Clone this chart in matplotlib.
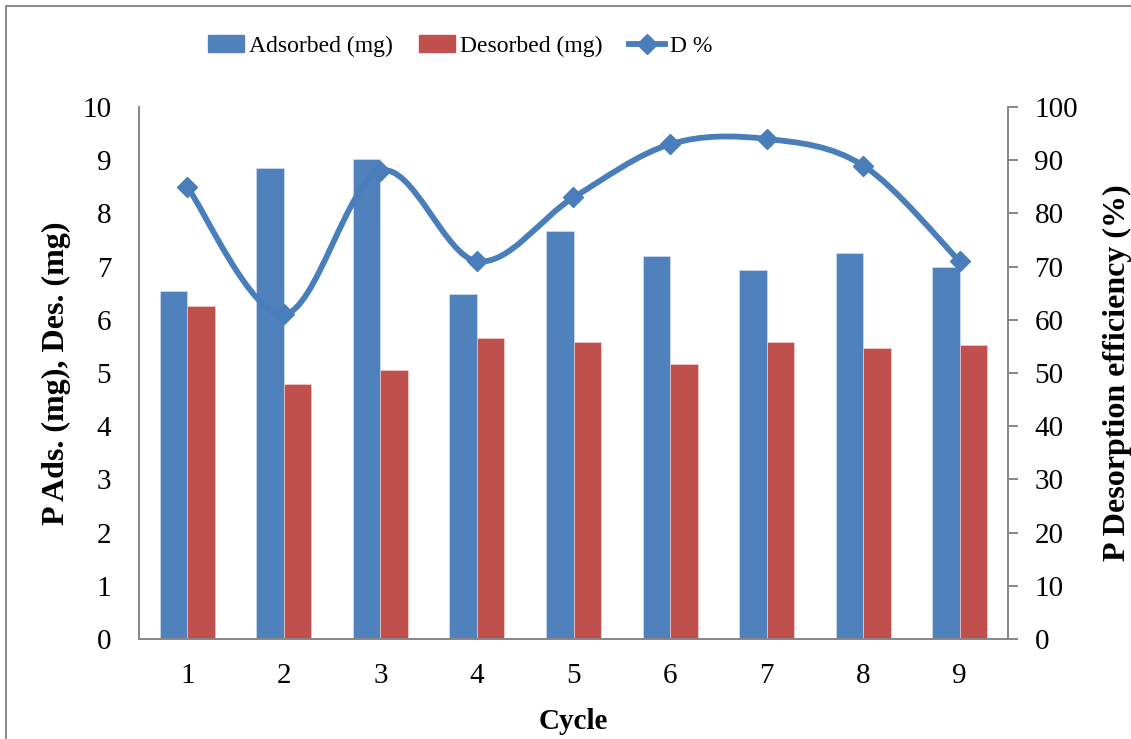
import numpy as np
import matplotlib
matplotlib.use("Agg")
import matplotlib.pyplot as plt
from matplotlib.path import Path
from matplotlib.patches import PathPatch, Rectangle
from matplotlib.lines import Line2D

plt.rcParams['font.family'] = ['Liberation Serif', 'DejaVu Serif']

# data
cycles = [1, 2, 3, 4, 5, 6, 7, 8, 9]
adsorbed = [6.55, 8.85, 9.02, 6.48, 7.67, 7.20, 6.94, 7.25, 7.00]
desorbed = [6.26, 4.80, 5.05, 5.65, 5.59, 5.17, 5.58, 5.47, 5.52]
d_pct = [85, 61, 88, 71, 83, 93, 94, 89, 71]

blue = '#4F81BD'
red = '#C0504D'
line_c = '#4A7EBB'
grey = '#868686'

fig = plt.figure(figsize=(11.31, 7.39), dpi=100)
ax = fig.add_axes([139 / 1131, 1 - 639 / 739, 869 / 1131, 532 / 739])
ax2 = ax.twinx()

w = 0.285
x = np.array(cycles, dtype=float)
ax.bar(x - w / 2, adsorbed, w, color=blue, edgecolor='#DCE6F2', linewidth=0.4,
       label='Adsorbed (mg)', zorder=2)
ax.bar(x + w / 2, desorbed, w, color=red, edgecolor='#F2DCDB', linewidth=0.4,
       label='Desorbed (mg)', zorder=2)

# smoothed line (Excel-style bezier through the points)
pts = list(zip(x, d_pct))
verts = [pts[0]]
codes = [Path.MOVETO]
n = len(pts)
for i in range(n - 1):
    p0 = pts[i - 1] if i > 0 else pts[i]
    p1 = pts[i]
    p2 = pts[i + 1]
    p3 = pts[i + 2] if i + 2 < n else pts[i + 1]
    c1 = (p1[0] + (p2[0] - p0[0]) / 6, p1[1] + (p2[1] - p0[1]) / 6)
    c2 = (p2[0] - (p3[0] - p1[0]) / 6, p2[1] - (p3[1] - p1[1]) / 6)
    verts += [c1, c2, p2]
    codes += [Path.CURVE4] * 3
ax2.add_patch(PathPatch(Path(verts, codes), facecolor='none', edgecolor=line_c,
                        linewidth=4.2, capstyle='round', zorder=3))
ax2.plot(x, d_pct, ls='none', marker='D', ms=10, color=line_c, zorder=4)

ax.set_xlim(0.5, 9.5)
ax.set_ylim(0, 10)
ax2.set_ylim(0, 100)
ax.set_yticks(range(0, 11))
ax2.set_yticks(range(0, 101, 10))
ax.set_xticks(cycles)

for a in (ax, ax2):
    a.spines['top'].set_visible(False)
    for s in a.spines.values():
        s.set_color(grey)
        s.set_linewidth(1.4)
ax.spines['right'].set_visible(False)
ax2.spines['left'].set_visible(False)
ax2.spines['bottom'].set_visible(False)

ax.tick_params(axis='y', length=0, pad=20, labelsize=21)
ax.tick_params(axis='x', length=0, pad=17, labelsize=21)
ax2.tick_params(axis='y', length=7, width=1.4, color=grey, pad=12, labelsize=21)

ax.set_xlabel('Cycle', fontsize=21, fontweight='bold', labelpad=14)
ax.set_ylabel('P Ads. (mg), Des. (mg)', fontsize=23, fontweight='bold', labelpad=8)
ax2.set_ylabel('P Desorption efficiency (%)', fontsize=23, fontweight='bold', labelpad=18)

handles = [
    Rectangle((0, 0), 1, 1, color=blue),
    Rectangle((0, 0), 1, 1, color=red),
    Line2D([], [], color=line_c, lw=4.2, marker='D', ms=10),
]
fig.legend(handles, ['Adsorbed (mg)', 'Desorbed (mg)', 'D %'], loc='center',
           bbox_to_anchor=(460 / 1131, 1 - 46 / 739), ncol=3, frameon=False,
           fontsize=17, handlelength=1.55, handleheight=0.68, handletextpad=0.2,
           columnspacing=1.1)

# chart border (only left and top edges are inside the picture)
fig.add_artist(Line2D([6 / 1131, 6 / 1131, 1.0], [0.0, 1 - 6 / 739, 1 - 6 / 739],
                      transform=fig.transFigure, color='#8C8C8C', linewidth=1.5))

fig.savefig('out.png', dpi=100)
